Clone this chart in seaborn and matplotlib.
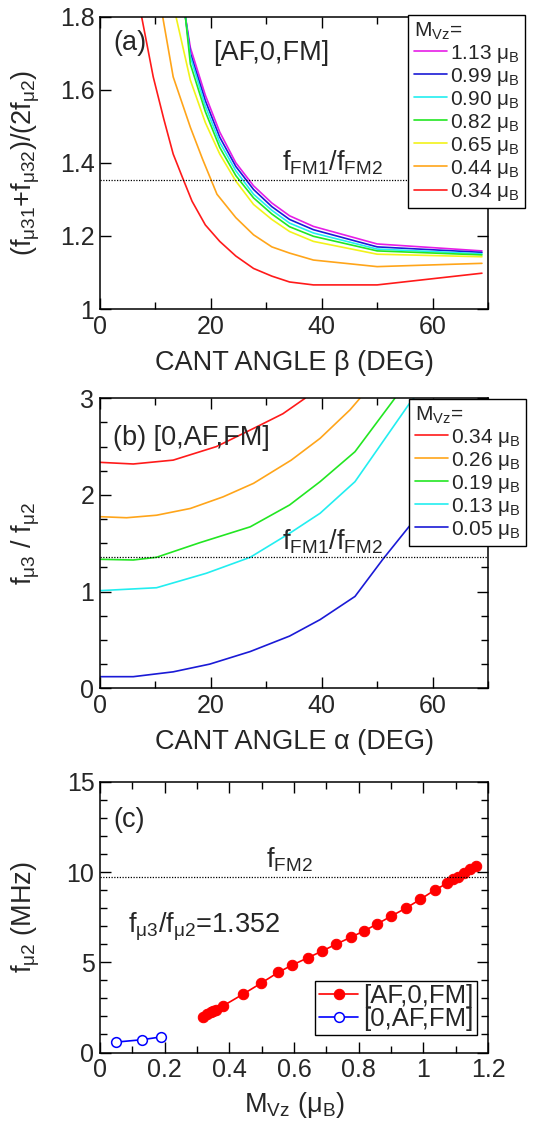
import numpy as np
import pandas as pd
import seaborn as sns
import matplotlib.pyplot as plt
from matplotlib.ticker import MultipleLocator

# ---- panel (a): [AF,0,FM], ratio vs cant angle beta ----
a_labels = ['1.13', '0.99', '0.90', '0.82', '0.65', '0.44', '0.34']
a_colors = ['#e61ee6', '#1a1ad6', '#22eef0', '#22e622', '#f2f21a', '#ffa51a', '#ff1a1a']
a_beta_upper = [15.4, 16.3, 19.0, 21.6, 24.5, 27.7, 31.0, 34.2, 38.5, 50.0, 68.9]
a_magenta = [1.80, 1.715, 1.585, 1.484, 1.400, 1.337, 1.290, 1.255, 1.226, 1.178, 1.159]
a_blue = [1.80, 1.700, 1.570, 1.470, 1.390, 1.327, 1.280, 1.245, 1.217, 1.170, 1.155]
a_cyan = [1.80, 1.690, 1.555, 1.456, 1.378, 1.314, 1.270, 1.235, 1.208, 1.164, 1.151]
a_green = [1.80, 1.670, 1.540, 1.442, 1.365, 1.304, 1.260, 1.225, 1.199, 1.159, 1.148]
a_beta_yellow = [13.7, 16.3, 19.0, 21.6, 24.5, 27.7, 31.0, 34.2, 38.5, 50.0, 68.9]
a_yellow = [1.80, 1.626, 1.510, 1.424, 1.350, 1.286, 1.245, 1.212, 1.185, 1.150, 1.143]
a_beta_orange = [11.3, 13.2, 16.3, 18.5, 21.1, 24.5, 27.7, 31.0, 34.2, 38.5, 50.0, 68.9]
a_orange = [1.80, 1.635, 1.497, 1.410, 1.314, 1.250, 1.203, 1.170, 1.153, 1.134, 1.116, 1.125]
a_beta_red = [7.5, 9.6, 11.5, 13.2, 15.0, 16.6, 19.0, 21.6, 24.5, 27.7, 31.0, 34.2, 38.5, 50.0, 68.9]
a_red = [1.80, 1.635, 1.520, 1.424, 1.355, 1.295, 1.230, 1.185, 1.145, 1.111, 1.090, 1.074, 1.066, 1.066, 1.098]

# ---- panel (b): [0,AF,FM], ratio vs cant angle alpha ----
b_labels = ['0.34', '0.26', '0.19', '0.13', '0.05']
b_colors = ['#ff1a1a', '#ffa51a', '#22e622', '#22eef0', '#1a1ad6']
b_alpha_red = [0, 6.0, 13.2, 21.0, 28.3, 33.0, 37.0]
b_red = [2.337, 2.320, 2.360, 2.500, 2.705, 2.840, 3.0]
b_alpha_orange = [0, 4.8, 10.2, 16.3, 22.2, 27.7, 34.5, 39.7, 45.1, 46.9]
b_orange = [1.775, 1.764, 1.790, 1.860, 1.980, 2.120, 2.360, 2.585, 2.880, 3.0]
b_alpha_green = [0, 6.0, 10.2, 18.0, 27.1, 34.2, 39.7, 46.0, 53.2]
b_green = [1.334, 1.327, 1.355, 1.506, 1.670, 1.896, 2.137, 2.447, 3.0]
b_alpha_cyan = [0, 10.2, 19.2, 27.1, 34.2, 39.7, 46.0, 56.0, 56.6]
b_cyan = [1.010, 1.040, 1.190, 1.355, 1.603, 1.810, 2.137, 2.960, 3.0]
b_alpha_blue = [0, 6.0, 13.2, 19.8, 27.1, 34.2, 39.7, 46.0, 51.1, 56.0, 57.5]
b_blue = [0.12, 0.12, 0.17, 0.25, 0.38, 0.54, 0.71, 0.95, 1.34, 1.69, 1.82]

# ---- panel (c): f_mu2 vs M_Vz ----
c_m_afm = [0.319, 0.332, 0.342, 0.350, 0.358, 0.381, 0.441, 0.497, 0.551, 0.595,
           0.644, 0.688, 0.731, 0.775, 0.816, 0.857, 0.901, 0.946, 0.991, 1.035,
           1.073, 1.092, 1.107, 1.125, 1.143, 1.164]
c_f_afm = [1.95, 2.11, 2.22, 2.30, 2.35, 2.59, 3.22, 3.83, 4.44, 4.85,
           5.26, 5.63, 6.01, 6.38, 6.73, 7.12, 7.56, 8.00, 8.49, 9.00,
           9.37, 9.60, 9.74, 9.96, 10.15, 10.33]
c_m_0af = [0.05, 0.13, 0.19]
c_f_0af = [0.58, 0.71, 0.87]

f_ratio_fm = 1.353
f_fm2 = 9.74

sns.set_theme(style='ticks')
plt.rcParams['font.family'] = ['Liberation Sans', 'DejaVu Sans']
plt.rcParams['mathtext.fontset'] = 'custom'
plt.rcParams['mathtext.rm'] = 'Liberation Sans'
plt.rcParams['mathtext.it'] = 'Liberation Sans'
plt.rcParams['mathtext.bf'] = 'Liberation Sans:bold'
plt.rcParams['axes.edgecolor'] = 'black'
plt.rcParams['axes.linewidth'] = 1.1

fig = plt.figure(figsize=(5.38, 11.25), dpi=100)
ax_a = fig.add_axes([0.1859, 0.7253, 0.7212, 0.26])
ax_b = fig.add_axes([0.1859, 0.3882, 0.7212, 0.2578])
ax_c = fig.add_axes([0.1859, 0.0644, 0.7212, 0.2407])

TICK = 18
LAB = 19.5
LEG = 15
mu_b = r' μ$_\mathrm{B}$'


def style_axes(ax):
    ax.tick_params(which='both', direction='in', top=True, right=True,
                   labelsize=TICK, color='black', width=1.0, pad=4)
    ax.tick_params(which='major', length=8)
    ax.tick_params(which='minor', length=5)
    for s in ax.spines.values():
        s.set_color('black')


def side_legend(ax, x_px, y_px):
    leg = ax.legend(title=r'M$_\mathrm{Vz}$=', loc='upper right',
                    bbox_to_anchor=(x_px / 538, 1 - y_px / 1125), bbox_transform=fig.transFigure,
                    fontsize=LEG, title_fontsize=LEG, frameon=True, fancybox=False,
                    framealpha=1, edgecolor='black', borderaxespad=0, handlelength=1.6,
                    handletextpad=0.15, labelspacing=0.05, borderpad=0.25, alignment='left')
    leg.get_frame().set_linewidth(1.0)
    return leg


# panel (a)
a_series = [(a_beta_upper, a_magenta), (a_beta_upper, a_blue), (a_beta_upper, a_cyan),
            (a_beta_upper, a_green), (a_beta_yellow, a_yellow),
            (a_beta_orange, a_orange), (a_beta_red, a_red)]
for (xs, ys), lab, col in zip(a_series, a_labels, a_colors):
    df = pd.DataFrame({'beta': xs, 'ratio': ys})
    sns.lineplot(data=df, x='beta', y='ratio', ax=ax_a, color=col, lw=1.2,
                 sort=False, estimator=None, label=lab + mu_b)
ax_a.axhline(f_ratio_fm, color='black', ls=(0, (1, 1.2)), lw=0.9)
ax_a.set_xlim(0, 70)
ax_a.set_ylim(1.0, 1.8)
ax_a.xaxis.set_major_locator(MultipleLocator(20))
ax_a.xaxis.set_minor_locator(MultipleLocator(10))
ax_a.set_yticks([1.0, 1.2, 1.4, 1.6, 1.8], ['1', '1.2', '1.4', '1.6', '1.8'])
style_axes(ax_a)
ax_a.set_xlabel('CANT ANGLE β (DEG)', fontsize=LAB, labelpad=8)
ax_a.set_ylabel(r'(f$_{μ31}$+f$_{μ32}$)/(2f$_{μ2}$)', fontsize=LAB)
ax_a.yaxis.set_label_coords(-0.15, 0.5)
ax_a.text(2.4, 1.728, '(a)', fontsize=LAB, va='center', ha='left')
ax_a.text(20.4, 1.70, '[AF,0,FM]', fontsize=LAB, va='center', ha='left')
ax_a.text(32.8, 1.40, r'f$_\mathrm{FM1}$/f$_\mathrm{FM2}$', fontsize=LAB, va='center', ha='left')
side_legend(ax_a, 525, 15)

# panel (b)
b_series = [(b_alpha_red, b_red), (b_alpha_orange, b_orange), (b_alpha_green, b_green),
            (b_alpha_cyan, b_cyan), (b_alpha_blue, b_blue)]
for (xs, ys), lab, col in zip(b_series, b_labels, b_colors):
    df = pd.DataFrame({'alpha': xs, 'ratio': ys})
    sns.lineplot(data=df, x='alpha', y='ratio', ax=ax_b, color=col, lw=1.2,
                 sort=False, estimator=None, label=lab + mu_b)
ax_b.axhline(f_ratio_fm, color='black', ls=(0, (1, 1.2)), lw=0.9)
ax_b.set_xlim(0, 70)
ax_b.set_ylim(0, 3)
ax_b.xaxis.set_major_locator(MultipleLocator(20))
ax_b.xaxis.set_minor_locator(MultipleLocator(10))
ax_b.yaxis.set_major_locator(MultipleLocator(1))
ax_b.yaxis.set_minor_locator(MultipleLocator(0.25))
style_axes(ax_b)
ax_b.set_xlabel('CANT ANGLE α (DEG)', fontsize=LAB, labelpad=8)
ax_b.set_ylabel(r'f$_{μ3}$ / f$_{μ2}$', fontsize=LAB)
ax_b.yaxis.set_label_coords(-0.15, 0.5)
ax_b.text(2.4, 2.59, '(b) [0,AF,FM]', fontsize=LAB, va='center', ha='left')
ax_b.text(32.8, 1.517, r'f$_\mathrm{FM1}$/f$_\mathrm{FM2}$', fontsize=LAB, va='center', ha='left')
side_legend(ax_b, 526, 399)

# panel (c)
sns.lineplot(x=c_m_afm, y=c_f_afm, ax=ax_c, color='#ff0000', lw=1.2, marker='o',
             markersize=7.5, markeredgecolor='#ff0000', markerfacecolor='#ff0000',
             sort=False, estimator=None, label='[AF,0,FM]')
sns.lineplot(x=c_m_0af, y=c_f_0af, ax=ax_c, color='#0000ff', lw=1.2, marker='o',
             markersize=7, markeredgecolor='#0000ff', markerfacecolor='white',
             markeredgewidth=1.1, sort=False, estimator=None, label='[0,AF,FM]')
ax_c.axhline(f_fm2, color='black', ls=(0, (1, 1.2)), lw=0.9)
ax_c.set_xlim(0, 1.2)
ax_c.set_ylim(0, 15)
ax_c.xaxis.set_minor_locator(MultipleLocator(0.1))
ax_c.yaxis.set_major_locator(MultipleLocator(5))
ax_c.yaxis.set_minor_locator(MultipleLocator(1))
ax_c.set_xticks([0, 0.2, 0.4, 0.6, 0.8, 1.0, 1.2], ['0', '0.2', '0.4', '0.6', '0.8', '1', '1.2'])
style_axes(ax_c)
ax_c.set_xlabel(r'M$_\mathrm{Vz}$ (μ$_\mathrm{B}$)', fontsize=LAB, labelpad=6)
ax_c.set_ylabel(r'f$_{μ2}$ (MHz)', fontsize=LAB)
ax_c.yaxis.set_label_coords(-0.15, 0.5)
ax_c.text(0.04, 12.9, '(c)', fontsize=LAB, va='center', ha='left')
ax_c.text(0.587, 10.67, r'f$_\mathrm{FM2}$', fontsize=LAB, va='center', ha='center')
ax_c.text(0.087, 6.97, r'f$_{μ3}$/f$_{μ2}$=1.352', fontsize=LAB, va='center', ha='left')
leg = ax_c.legend(loc='lower right', bbox_to_anchor=(0.972, 0.065), fontsize=18.5,
                  frameon=True, fancybox=False, framealpha=1, edgecolor='black',
                  borderaxespad=0, handlelength=1.5, handletextpad=0.2,
                  labelspacing=-0.05, borderpad=0.15)
leg.get_frame().set_linewidth(1.0)

fig.savefig('out.png', dpi=100)
